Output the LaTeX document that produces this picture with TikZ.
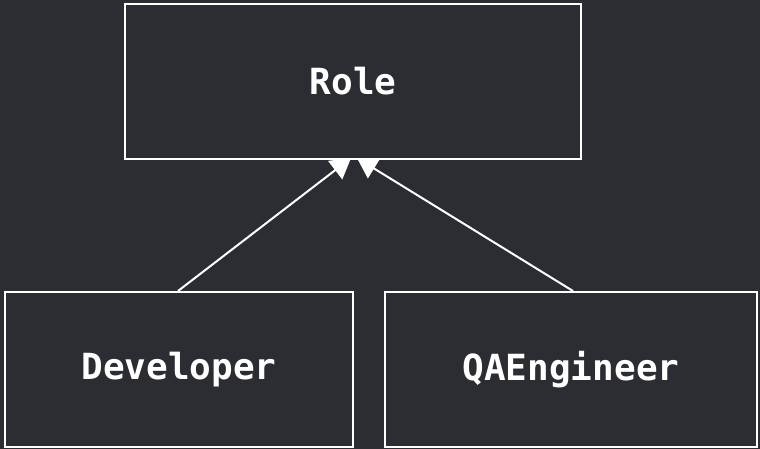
\documentclass[tikz,border=0pt]{standalone}
\usepackage{fontspec}
\setmonofont{DejaVu Sans Mono}
\usetikzlibrary{arrows.meta}
\definecolor{bg}{HTML}{2B2D33}
\begin{document}
\begin{tikzpicture}[x=1pt,y=-1pt,
  classbox/.style={draw=white,line width=2pt,fill=bg,text=white,
    font=\ttfamily\bfseries\fontsize{36}{42}\selectfont,anchor=north west,inner sep=0pt},
  inherit/.style={draw=white,line width=2pt,-{Triangle[width=23pt,length=20pt]}}]
  \fill[bg] (0,0) rectangle (760,449);
  \useasboundingbox (0,0) rectangle (760,449);
  \node[classbox,minimum width=456pt,minimum height=155pt] (role) at (124,3) {Role};
  \node[classbox,minimum width=348pt,minimum height=155pt] (dev) at (4,291) {Developer};
  \node[classbox,minimum width=372pt,minimum height=155pt] (qa) at (384,291) {QAEngineer};
  \coordinate (devtip) at (351,158);
  \coordinate (qatip) at (357,158);
  \draw[inherit] (dev.north west) ++(174,0) -- (devtip);
  \draw[inherit] (qa.north west) ++(189,0) -- (qatip);
\end{tikzpicture}
\end{document}
